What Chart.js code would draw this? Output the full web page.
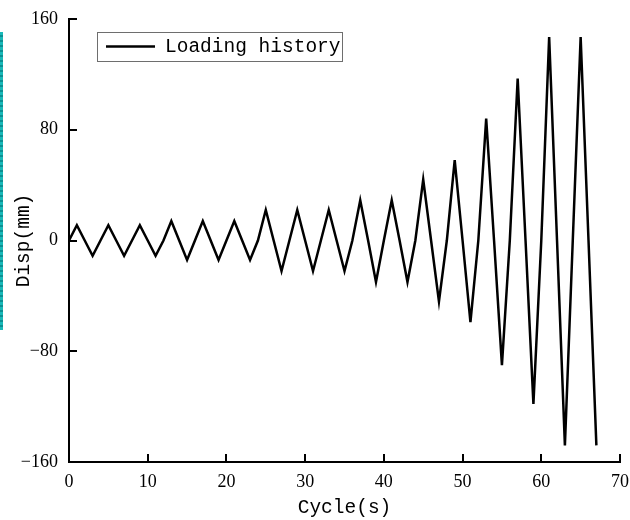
<!DOCTYPE html>
<html>
<head>
<meta charset="utf-8">
<script src="https://cdn.jsdelivr.net/npm/chart.js@4"></script>
<style>
  html, body { margin: 0; padding: 0; background: #fff; }
  #wrap { position: relative; width: 630px; height: 520px; }
  #strip { position: absolute; left: 0; top: 32px; width: 3px; height: 298px;
           background: repeating-linear-gradient(#19b9b9 0 3px, #0c8f92 3px 5px); }
</style>
</head>
<body>
<div id="wrap">
  <canvas id="chart" width="630" height="520"></canvas>
  <div id="strip"></div>
</div>
<script>
// time (s) and displacement (mm)
const cycleTime = [
  0, 1, 2, 3, 4, 5, 6, 7, 8, 9, 10, 11, 12, 13, 14, 15, 16, 17, 18, 19,
  20, 21, 22, 23, 24, 25, 26, 27, 28, 29, 30, 31, 32, 33, 34, 35, 36, 37, 38, 39,
  40, 41, 42, 43, 44, 45, 46, 47, 48, 49, 50, 51, 52, 53, 54, 55, 56, 57, 58, 59,
  60, 61, 62, 63, 64, 65, 66, 67
];
const disp = [
  0, 11, 0, -11, 0, 11, 0, -11, 0, 11, 0, -11, 0, 14, 0, -14, 0, 14, 0, -14,
  0, 14, 0, -14, 0, 22, 0, -22, 0, 22, 0, -22, 0, 22, 0, -22, 0, 29, 0, -30,
  0, 29, 0, -30, 0, 44, 0, -44, 0, 58, 0, -59, 0, 88, 0, -90, 0, 117, 0, -118,
  0, 147, 0, -148, 0, 147, 0, -148
];
const xTicks = [0, 10, 20, 30, 40, 50, 60, 70];
const yTicks = [-160, -80, 0, 80, 160];

const points = cycleTime.map((t, i) => ({ x: t, y: disp[i] }));

// ticks drawn inward, like the original
const innerTicks = {
  id: 'innerTicks',
  afterDraw(chart) {
    const ctx = chart.ctx;
    const xs = chart.scales.x, ys = chart.scales.y;
    const area = chart.chartArea;
    ctx.save();
    ctx.strokeStyle = '#000';
    ctx.lineWidth = 2;
    ctx.beginPath();
    xTicks.forEach(v => {
      const px = Math.round(xs.getPixelForValue(v));
      ctx.moveTo(px, area.bottom);
      ctx.lineTo(px, area.bottom - 8);
    });
    yTicks.forEach(v => {
      const py = Math.round(ys.getPixelForValue(v));
      ctx.moveTo(area.left, py);
      ctx.lineTo(area.left + 8, py);
    });
    ctx.stroke();
    ctx.restore();
  }
};

// boxed legend inside the plot
const boxLegend = {
  id: 'boxLegend',
  afterDraw(chart) {
    const ctx = chart.ctx;
    const ds = chart.data.datasets[0];
    ctx.save();
    ctx.strokeStyle = '#6e6e6e';
    ctx.lineWidth = 1;
    ctx.strokeRect(97.5, 32.5, 245, 29);
    ctx.strokeStyle = ds.borderColor;
    ctx.lineWidth = ds.borderWidth;
    ctx.beginPath();
    ctx.moveTo(106, 46.5);
    ctx.lineTo(155, 46.5);
    ctx.stroke();
    ctx.fillStyle = '#000';
    ctx.font = '19.5px "Liberation Mono"';
    ctx.textBaseline = 'middle';
    ctx.fillText(ds.label, 165, 47);
    ctx.restore();
  }
};

new Chart(document.getElementById('chart'), {
  type: 'line',
  data: {
    datasets: [{
      label: 'Loading history',
      data: points,
      borderColor: '#000',
      borderWidth: 2.5,
      pointRadius: 0,
      tension: 0,
      fill: false
    }]
  },
  options: {
    responsive: false,
    animation: false,
    layout: { padding: { left: 0, top: 19, right: 1, bottom: 0 } },
    plugins: {
      legend: { display: false },
      tooltip: { enabled: false }
    },
    scales: {
      x: {
        type: 'linear',
        min: 0,
        max: 70,
        afterFit(scale) { scale.height = 58; },
        afterBuildTicks(scale) { scale.ticks = xTicks.map(v => ({ value: v })); },
        grid: { display: false },
        border: { display: true, color: '#000', width: 2 },
        ticks: {
          color: '#000',
          padding: 1,
          maxRotation: 0,
          font: { family: 'Liberation Serif', size: 18 }
        },
        title: {
          display: true,
          text: 'Cycle(s)',
          color: '#000',
          padding: { top: 2, bottom: 0 },
          font: { family: 'Liberation Mono', size: 19.5 }
        }
      },
      y: {
        min: -160,
        max: 160,
        afterFit(scale) { scale.width = 69; },
        afterBuildTicks(scale) { scale.ticks = yTicks.map(v => ({ value: v })); },
        grid: { display: false },
        border: { display: true, color: '#000', width: 2 },
        ticks: {
          color: '#000',
          padding: 3,
          font: { family: 'Liberation Serif', size: 18 },
          callback: v => String(v).replace('-', '\u2212')
        },
        title: {
          display: true,
          text: 'Disp(mm)',
          color: '#000',
          padding: { top: 12, bottom: 0 },
          font: { family: 'Liberation Mono', size: 19.5 }
        }
      }
    }
  },
  plugins: [innerTicks, boxLegend]
});
</script>
</body>
</html>
